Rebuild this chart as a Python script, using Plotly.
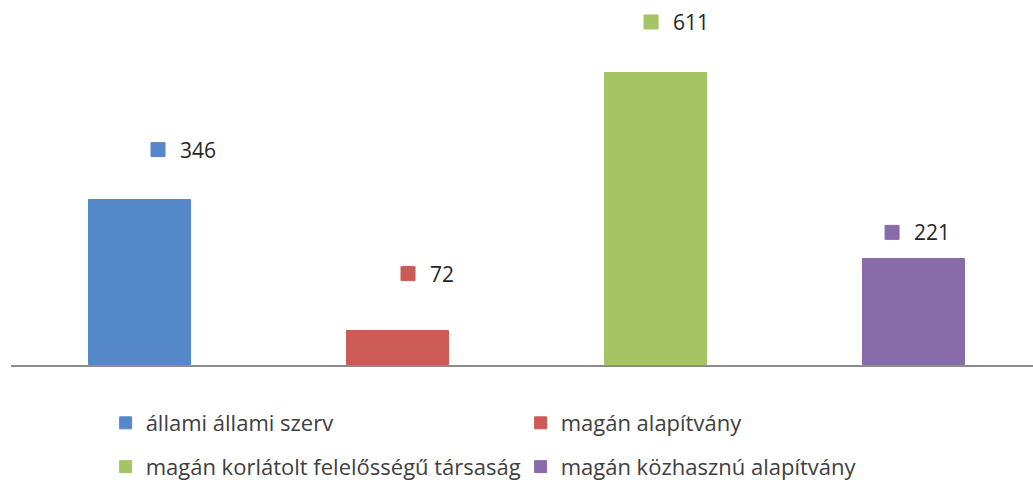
import plotly.graph_objects as go

categories = ["állami állami szerv", "magán alapítvány",
              "magán korlátolt felelősségű társaság", "magán közhasznú alapítvány"]
values = [346, 72, 611, 221]
colors = ["#5588C8", "#CC5A55", "#A5C463", "#886CAA"]

# label placement offsets in pixels (layout only)
sq_dx = [18, 10, -5, -22]
txt_dx = [38, 30, 15, -2]
lab_dy = [50, 57, 51, 27]

font_family = "Open Sans, sans-serif"

fig = go.Figure()
for i, (c, v, col) in enumerate(zip(categories, values, colors)):
    fig.add_trace(go.Bar(
        x=[i], y=[v], name=c, width=0.395,
        marker=dict(color=col, line=dict(color=col, width=1)),
        legend="legend" if i < 2 else "legend2",
        showlegend=True,
    ))
    fig.add_shape(type="rect", xref="x", yref="y", xsizemode="pixel", ysizemode="pixel",
                  xanchor=i, yanchor=v,
                  x0=sq_dx[i] - 7, x1=sq_dx[i] + 7, y0=lab_dy[i] - 7, y1=lab_dy[i] + 7,
                  fillcolor=col, line=dict(color=col, width=1))
    fig.add_annotation(x=i, y=v, xref="x", yref="y", text=str(v), showarrow=False,
                       xanchor="left", yanchor="middle", xshift=txt_dx[i], yshift=lab_dy[i],
                       font=dict(family=font_family, size=21, color="#262626"))

legend_common = dict(orientation="h", entrywidth=370, entrywidthmode="pixels",
                     font=dict(family=font_family, size=22, color="#404040"),
                     bgcolor="rgba(0,0,0,0)", xanchor="left", yanchor="middle",
                     itemclick=False, itemdoubleclick=False)

fig.update_layout(
    width=1033, height=480,
    margin=dict(l=11, r=0, t=0, b=115, autoexpand=False),
    paper_bgcolor="white", plot_bgcolor="white",
    bargap=0,
    xaxis=dict(range=[-0.5, 3.461], showticklabels=False, showgrid=False, zeroline=False,
               showline=True, linecolor="#8C8C8C", linewidth=2, ticks=""),
    yaxis=dict(range=[0, 763.6], visible=False, showgrid=False, zeroline=False),
    legend=dict(x=0.0926, y=-0.159, **legend_common),
    legend2=dict(x=0.0926, y=-0.279, **legend_common),
    showlegend=True,
)

fig.write_html(
    "out.html",
    config={"displayModeBar": False},
    post_script="document.body.style.margin='0';document.body.style.padding='0';"
                "document.body.style.overflow='hidden';"
                "document.documentElement.style.overflow='hidden';window.scrollTo(0,0);",
)
